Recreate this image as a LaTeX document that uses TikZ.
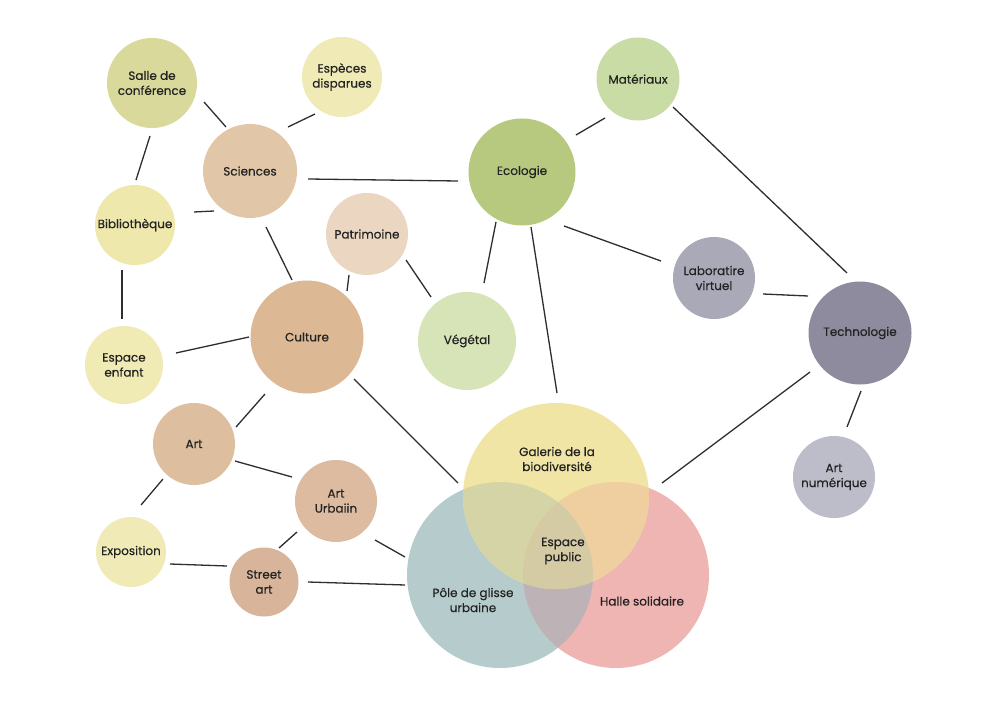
\documentclass[tikz,border=0pt]{standalone}
\usepackage{fontspec}
\setmainfont{Poppins}[FakeBold=0.35]
\usetikzlibrary{calc}
\definecolor{txt}{HTML}{222222}
\definecolor{lnk}{HTML}{2E2E2E}
\definecolor{csal}{HTML}{D8D99A}
\definecolor{cesp}{HTML}{EFEAB6}
\definecolor{cbib}{HTML}{EEE8AC}
\definecolor{cenf}{HTML}{F0EBB4}
\definecolor{cexp}{HTML}{F0EBB6}
\definecolor{csci}{HTML}{E2C6A8}
\definecolor{cpat}{HTML}{EBD6C1}
\definecolor{ccul}{HTML}{DDB894}
\definecolor{cart}{HTML}{DDBFA0}
\definecolor{curb}{HTML}{DCBBA0}
\definecolor{cstr}{HTML}{D8B59A}
\definecolor{ceco}{HTML}{B6C97F}
\definecolor{cmat}{HTML}{CADCA5}
\definecolor{cveg}{HTML}{D7E4B8}
\definecolor{clab}{HTML}{AAA9B8}
\definecolor{ctec}{HTML}{8D8B9D}
\definecolor{canu}{HTML}{BDBCC9}
\definecolor{cgal}{HTML}{F1E5A5}
\definecolor{cpol}{HTML}{B6CCCC}
\definecolor{chal}{HTML}{EEB5B3}
\definecolor{cgp}{HTML}{D4D4A6}
\definecolor{cgh}{HTML}{EFCFA0}
\definecolor{cph}{HTML}{BDB3B6}
\definecolor{cgph}{HTML}{D4CAA4}
\begin{document}
\begin{tikzpicture}[x=1pt,y=-1pt,
  bub/.style={circle,inner sep=0pt,align=center,text=txt,font=\fontsize{12}{15}\selectfont},
  lbl/.style={inner sep=0pt,align=center,text=txt,font=\fontsize{12}{15}\selectfont},
  link/.style={draw=lnk,line width=1.3pt}]
\fill[white] (0,0) rectangle (1000,708);
\useasboundingbox (0,0) rectangle (1000,708);

% Venn group
\node[bub,minimum size=186pt] (pol) at (500,575) {};
\node[bub,minimum size=186pt] (hal) at (616,575) {};
\node[bub,minimum size=186pt] (gal) at (556,496) {};
\fill[cpol] (pol.center) circle (93pt);
\fill[chal] (hal.center) circle (93pt);
\fill[cgal] (gal.center) circle (93pt);
\begin{scope}\clip (pol.center) circle (93pt); \fill[cph] (hal.center) circle (93pt);\end{scope}
\begin{scope}\clip (gal.center) circle (93pt); \fill[cgp] (pol.center) circle (93pt);\end{scope}
\begin{scope}\clip (gal.center) circle (93pt); \fill[cgh] (hal.center) circle (93pt);\end{scope}
\begin{scope}\clip (gal.center) circle (93pt); \clip (pol.center) circle (93pt); \fill[cgph] (hal.center) circle (93pt);\end{scope}
\node[lbl] (galt) at (557,459) {Galerie de la\\biodiversité};
\node[lbl] (polt) at (473,600) {Pôle de glisse\\urbaine};
\node[lbl] (halt) at (642,601) {Halle solidaire};
\node[lbl] (pubt) at (563,551) {Espace\\public};

% bubbles
\node[bub,minimum size=90pt,fill=csal] (sal) at (152,83) {Salle de\\conférence};
\node[bub,minimum size=80pt,fill=cesp] (esp) at (342,77) {Espèces\\disparues};
\node[bub,minimum size=94pt,fill=csci] (sci) at (250,171) {Sciences};
\node[bub,minimum size=80pt,fill=cbib] (bib) at (135,225) {Bibliothèque};
\node[bub,minimum size=82pt,fill=cpat] (pat) at (367,234) {Patrimoine};
\node[bub,minimum size=107pt,fill=ceco] (eco) at (522,172) {Ecologie};
\node[bub,minimum size=83pt,fill=cmat] (mat) at (638,79) {Matériaux};
\node[bub,minimum size=82pt,fill=clab] (lab) at (714,278) {Laboratire\\virtuel};
\node[bub,minimum size=103pt,fill=ctec] (tec) at (860,333) {Technologie};
\node[bub,minimum size=82pt,fill=canu] (anu) at (834,477) {Art\\numérique};
\node[bub,minimum size=113pt,fill=ccul] (cul) at (307,337) {Culture};
\node[bub,minimum size=98pt,fill=cveg] (veg) at (467,341) {Végétal};
\node[bub,minimum size=78pt,fill=cenf] (enf) at (124,365) {Espace\\enfant};
\node[bub,minimum size=82pt,fill=cart] (art) at (194,444) {Art};
\node[bub,minimum size=82pt,fill=curb] (urb) at (336,501) {Art\\Urbaiin};
\node[bub,minimum size=70pt,fill=cexp] (exp) at (131,552) {Exposition};
\node[bub,minimum size=69pt,fill=cstr] (str) at (264,582) {Street\\art};

% connectors
\draw[link] ($(sal)+(52,19)$) -- ($(sci)+(-24,-44)$);
\draw[link] ($(esp)+(-27,37)$) -- ($(sci)+(38,-44)$);
\draw[link] ($(sal)+(-2,53)$) -- ($(bib)+(1,-45)$);
\draw[link] ($(bib)+(59,-13)$) -- ($(sci)+(-36,40)$);
\draw[link] ($(sci)+(58,8)$) -- ($(eco)+(-64,9)$);
\draw[link] ($(sci)+(16,56)$) -- ($(cul)+(-15,-57)$);
\draw[link] ($(bib)+(-13,45)$) -- ($(enf)+(-2,-46)$);
\draw[link] ($(pat)+(-18,41)$) -- ($(cul)+(40,-46)$);
\draw[link] ($(pat)+(39,26)$) -- ($(veg)+(-36,-44)$);
\draw[link] ($(eco)+(-26,50)$) -- ($(veg)+(17,-58)$);
\draw[link] ($(eco)+(9,55)$) -- ($(gal)+(1,-103)$);
\draw[link] ($(eco)+(54,-37)$) -- ($(mat)+(-33,39)$);
\draw[link] ($(eco)+(42,54)$) -- ($(lab)+(-53,-17)$);
\draw[link] ($(mat)+(35,28)$) -- ($(tec)+(-13,-60)$);
\draw[link] ($(lab)+(49,16)$) -- ($(tec)+(-52,-37)$);
\draw[link] ($(tec)+(1,58)$) -- ($(anu)+(13,-50)$);
\draw[link] ($(tec)+(-50,39)$) -- ($(gal)+(106,-13)$);
\draw[link] ($(cul)+(-58,0)$) -- ($(enf)+(52,-12)$);
\draw[link] ($(cul)+(-42,57)$) -- ($(art)+(42,-17)$);
\draw[link] ($(cul)+(47,42)$) -- ($(gal)+(-98,-13)$);
\draw[link] ($(art)+(41,17)$) -- ($(urb)+(-44,-24)$);
\draw[link] ($(art)+(-31,35)$) -- ($(exp)+(10,-47)$);
\draw[link] ($(urb)+(-39,31)$) -- ($(str)+(15,-34)$);
\draw[link] ($(urb)+(39,39)$) -- ($(pol)+(-95,-18)$);
\draw[link] ($(exp)+(39,12)$) -- ($(str)+(-37,-16)$);
\draw[link] ($(str)+(44,0)$) -- ($(pol)+(-95,10)$);
\end{tikzpicture}
\end{document}
